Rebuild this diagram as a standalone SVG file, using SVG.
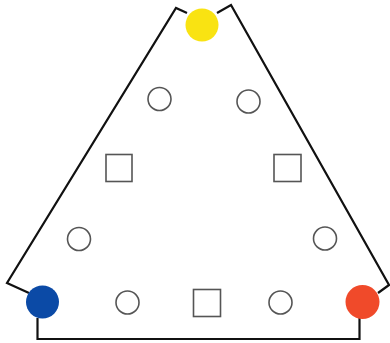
<svg xmlns="http://www.w3.org/2000/svg" width="390" height="343" viewBox="0 0 390 343">
<style>
.outline{fill:none;stroke:#111;stroke-width:2.2;stroke-linejoin:miter}
.sc{fill:#fff;stroke:#555;stroke-width:1.6}
</style>
<rect width="390" height="343" fill="#fff"/>
<g id="connectors">
<path class="outline" d="M187,13 L176,8 L7,283 L29,293"/>
<path class="outline" d="M217,13 L231,5 L389,285 L378,293"/>
<path class="outline" d="M37.5,318 L37.5,339 L359.5,339 L359.5,318"/>
</g>
<g id="yellow"><circle cx="202" cy="25" r="16.5" fill="#f9e312"/></g>
<g id="blue"><circle cx="42.5" cy="302" r="16.5" fill="#0b4aa6"/></g>
<g id="red"><circle cx="362.5" cy="302" r="17" fill="#f04a2a"/></g>
<g id="c1"><circle class="sc" cx="159.5" cy="99" r="11.5"/></g>
<g id="c2"><circle class="sc" cx="248.5" cy="101.5" r="11.5"/></g>
<g id="s1"><rect class="sc" x="106" y="154.5" width="26" height="27"/></g>
<g id="s2"><rect class="sc" x="274" y="154.5" width="27" height="27"/></g>
<g id="c3"><circle class="sc" cx="79" cy="239" r="11.5"/></g>
<g id="c4"><circle class="sc" cx="325" cy="238.5" r="11.5"/></g>
<g id="c5"><circle class="sc" cx="127.5" cy="302.5" r="11.5"/></g>
<g id="s3"><rect class="sc" x="193.5" y="289.5" width="27" height="27"/></g>
<g id="c6"><circle class="sc" cx="280.5" cy="302.5" r="11.5"/></g>
</svg>
